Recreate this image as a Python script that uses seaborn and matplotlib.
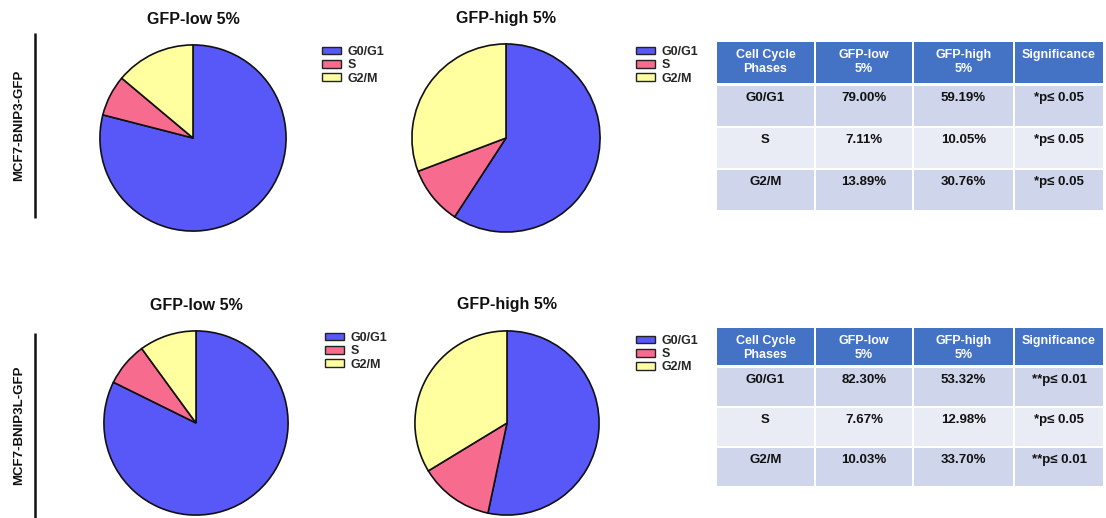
import matplotlib
matplotlib.use("Agg")
import matplotlib.pyplot as plt
from matplotlib.patches import Patch, Rectangle
import seaborn as sns

# Cell cycle phase distributions (%)
phases = ["G0/G1", "S", "G2/M"]
bnip3_low = [79.00, 7.11, 13.89]
bnip3_high = [59.19, 10.05, 30.76]
bnip3l_low = [82.30, 7.67, 10.03]
bnip3l_high = [53.32, 12.98, 33.70]

bnip3_sig = ["*p\u2264 0.05", "*p\u2264 0.05", "*p\u2264 0.05"]
bnip3l_sig = ["**p\u2264 0.01", "*p\u2264 0.05", "**p\u2264 0.01"]

row_labels = ["MCF7-BNIP3-GFP", "MCF7-BNIP3L-GFP"]
pie_titles = ["GFP-low 5%", "GFP-high 5%"]
header = ["Cell Cycle\nPhases", "GFP-low\n5%", "GFP-high\n5%", "Significance"]

sns.set_style("white")
plt.rcParams["font.family"] = ["Liberation Sans", "DejaVu Sans"]
plt.rcParams["font.weight"] = "bold"

colors = sns.color_palette(["#5858F8", "#F76C8E", "#FFFFA0"])

W, H = 1106, 518
fig = plt.figure(figsize=(W / 100, H / 100), dpi=100)
fig.patch.set_facecolor("white")

# full-figure axes in pixel units for tables and side labels
bg = fig.add_axes([0, 0, 1, 1])
bg.set_xlim(0, W)
bg.set_ylim(H, 0)
bg.axis("off")


def px_axes(x0, y0, w, h):
    return fig.add_axes([x0 / W, 1 - (y0 + h) / H, w / W, h / H])


def draw_pie(cx, cy, r, values, title, legend_x, legend_y):
    ax = px_axes(cx - r, cy - r, 2 * r, 2 * r)
    ax.pie(values, colors=colors, startangle=90, counterclock=False,
           wedgeprops=dict(edgecolor="#111111", linewidth=1.2))
    ax.set_xlim(-1.01, 1.01)
    ax.set_ylim(-1.01, 1.01)
    ax.set_aspect("equal")
    bg.text(cx, cy - r - 25, title, ha="center", va="center",
            fontsize=11.5, fontweight="bold", color="#111111")
    handles = [Patch(facecolor=c, edgecolor="#222222", linewidth=1.0, label=p)
               for c, p in zip(colors, phases)]
    fig.legend(handles=handles, loc="upper left",
               bbox_to_anchor=(legend_x / W, 1 - legend_y / H),
               bbox_transform=fig.transFigure, frameon=False,
               handlelength=1.55, handleheight=0.55,
               handletextpad=0.5, labelspacing=0.1, borderpad=0,
               borderaxespad=0, prop=dict(weight="bold", size=9))


def draw_table(top, header_h, row_h, gap, low, high, sig):
    col_edges = [716, 815, 913, 1014, 1104]
    head_color = "#4472C4"
    row_colors = ["#CFD5EA", "#E9EBF5", "#CFD5EA"]
    for j in range(4):
        x0, x1 = col_edges[j] + 1, col_edges[j + 1] - 1
        bg.add_patch(Rectangle((x0, top), x1 - x0, header_h,
                               facecolor=head_color, edgecolor="none"))
        bg.text((x0 + x1) / 2, top + (20 if "\n" in header[j] else 13),
                header[j], ha="center", va="center",
                fontsize=9, fontweight="bold", color="white",
                linespacing=1.15)
    y = top + header_h + gap
    for i in range(3):
        cells = [phases[i], f"{low[i]:.2f}%", f"{high[i]:.2f}%", sig[i]]
        for j in range(4):
            x0, x1 = col_edges[j] + 1, col_edges[j + 1] - 1
            bg.add_patch(Rectangle((x0, y), x1 - x0, row_h,
                                   facecolor=row_colors[i], edgecolor="none"))
            bg.text((x0 + x1) / 2, y + 12, cells[j], ha="center", va="center",
                    fontsize=9.5, fontweight="bold", color="#111111")
        y += row_h + 2


def draw_side_label(y0, y1, text):
    bg.plot([35, 35], [y0, y1], color="#111111", linewidth=1.8,
            solid_capstyle="butt")
    bg.text(19, (y0 + y1) / 2, text, rotation=90, ha="center", va="center",
            fontsize=9.5, fontweight="bold", color="#111111")


# top panel: MCF7-BNIP3-GFP
draw_pie(193, 138, 94, bnip3_low, pie_titles[0], 322, 46)
draw_pie(506, 138, 95, bnip3_high, pie_titles[1], 636, 46)
draw_table(42, 41, 40, 3, bnip3_low, bnip3_high, bnip3_sig)
draw_side_label(33, 218, row_labels[0])

# bottom panel: MCF7-BNIP3L-GFP
draw_pie(196, 423, 93, bnip3l_low, pie_titles[0], 325, 332)
draw_pie(507, 423, 93, bnip3l_high, pie_titles[1], 636, 335)
draw_table(328, 37, 38, 3, bnip3l_low, bnip3l_high, bnip3l_sig)
draw_side_label(333, 518, row_labels[1])

fig.savefig("out.png", dpi=100, facecolor="white")
